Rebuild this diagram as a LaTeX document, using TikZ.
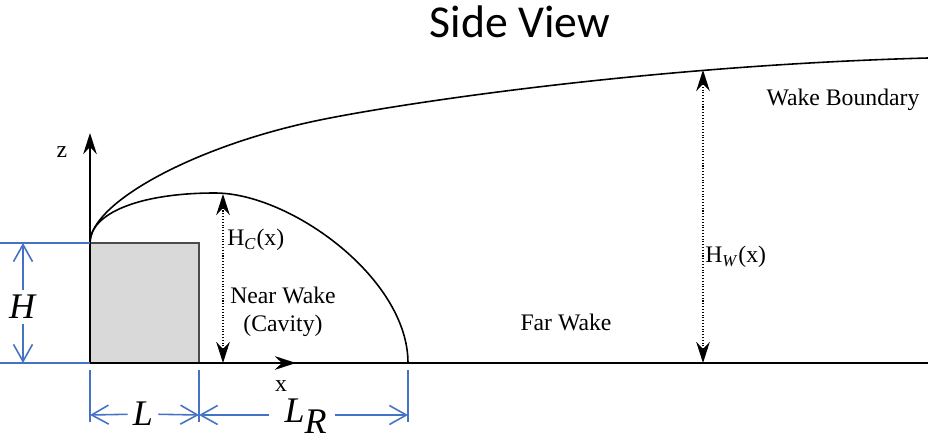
\documentclass[tikz,border=0pt]{standalone}
\usepackage{fontspec}
\setmainfont{Liberation Serif}
\newfontfamily\titlefont{Carlito}
\usepackage{tikz}
\usetikzlibrary{arrows.meta,positioning}
\definecolor{dimblue}{HTML}{4472C4}

\begin{document}
\begin{tikzpicture}[font=\fontsize{13.5}{16}\selectfont, >={Stealth[length=0.42cm,width=0.27cm]},
  curve/.style={line width=0.9pt},
  gauge/.style={<->, densely dotted, line width=0.6pt},
  dim/.style={dimblue, line width=0.9pt},
  dimarrow/.style={dim, -{Straight Barb[length=0.34cm,width=0.38cm]}},
  dimlabel/.style={text=black, inner sep=0.1cm, font=\fontsize{20.5}{24}\selectfont}]
\useasboundingbox (0,0) rectangle (18.56,8.86);

% ground, building and axes
\coordinate (O) at (1.8,1.6);
\coordinate (roof) at (1.8,4.0);
\coordinate (back) at (3.98,1.6);
\coordinate (reattach) at (8.16,1.6);
\coordinate (far) at (18.56,1.6);
\coordinate (ztip) at (1.8,6.2);
\coordinate (xtip) at (5.92,1.6);
\draw[fill=black!15, draw=black!70, line width=1.1pt] (O) rectangle (3.98,4.0);
\draw[line width=1.5pt] (O) -- (far);
\draw[->, line width=1.1pt] (O) -- (ztip);
\draw[->, line width=1.5pt] (O) -- (xtip);
\node[inner sep=1pt] (zlab) at (1.24,5.82) {z};
\node[inner sep=0pt] (xlab) at (5.62,1.14) {x};

% cavity and wake boundary
\draw[curve] (roof) .. controls (1.8,4.6) and (2.8,5.0) .. (4.3,5.0)
 .. controls (5.8,5.0) and (8.16,3.3) .. (reattach);
\draw[curve] (roof) .. controls (1.8,4.8) and (3.9,5.95) .. (6.4,6.46)
 .. controls (8.0,6.79) and (13,7.55) .. (18.56,7.7);

% heights
\coordinate (hcTop) at (4.46,4.98);
\coordinate (hcBase) at (4.46,1.6);
\coordinate (hwTop) at (14.06,7.46);
\coordinate (hwBase) at (14.06,1.6);
\draw[gauge] (hcBase) -- (hcTop);
\draw[gauge] (hwBase) -- (hwTop);
\node[anchor=west, inner sep=0] (hc) at (4.54,4.06) {H\textsubscript{\textit{C}}(x)};
\node[anchor=west, inner sep=0] (hw) at (14.1,3.72) {H\textsubscript{\textit{W}}(x)};

\node[align=center] (near) at (5.66,2.63) {Near Wake\\(Cavity)};
\node (farwake) at (11.32,2.42) {Far Wake};
\node (boundary) at (16.86,6.86) {Wake Boundary};
\node[font=\titlefont\fontsize{26}{30}\selectfont] (title) at (10.4,8.42) {Side View};

% dimensions
\coordinate (hTopL) at (0,4.0);
\coordinate (hBotL) at (0,1.6);
\coordinate (hTop) at (0.46,4.0);
\coordinate (hBot) at (0.46,1.6);
\draw[dim] (hTopL) -- (roof);
\draw[dim] (hBotL) -- (O);
\node[dimlabel] (Hlab) at (0.46,2.72) {\textit{H}};
\draw[dimarrow] (Hlab) -- (hTop);
\draw[dimarrow] (Hlab) -- (hBot);

\foreach \name/\x in {a/1.8, b/3.98, c/8.16}
 \draw[dim] (\x,1.46) coordinate (\name1) -- (\x,0.42) coordinate (\name2);
\coordinate (lLeft) at (1.8,0.56);
\coordinate (lRight) at (3.98,0.56);
\coordinate (rRight) at (8.16,0.56);
\node[dimlabel] (Llab) at (2.86,0.58) {\textit{L}};
\node[dimlabel, inner sep=0pt, anchor=base] (LRlab) at (6.12,0.42) {\textit{L}$_{\textit{R}}$};
\draw[dimarrow] ([xshift=-0.3cm]LRlab.west |- lRight) -- (lRight);
\draw[dimarrow] ([xshift=0.14cm]LRlab.east |- rRight) -- (rRight);
\draw[dimarrow] (Llab) -- (lLeft);
\draw[dimarrow] (Llab) -- (lRight);
\end{tikzpicture}
\end{document}
